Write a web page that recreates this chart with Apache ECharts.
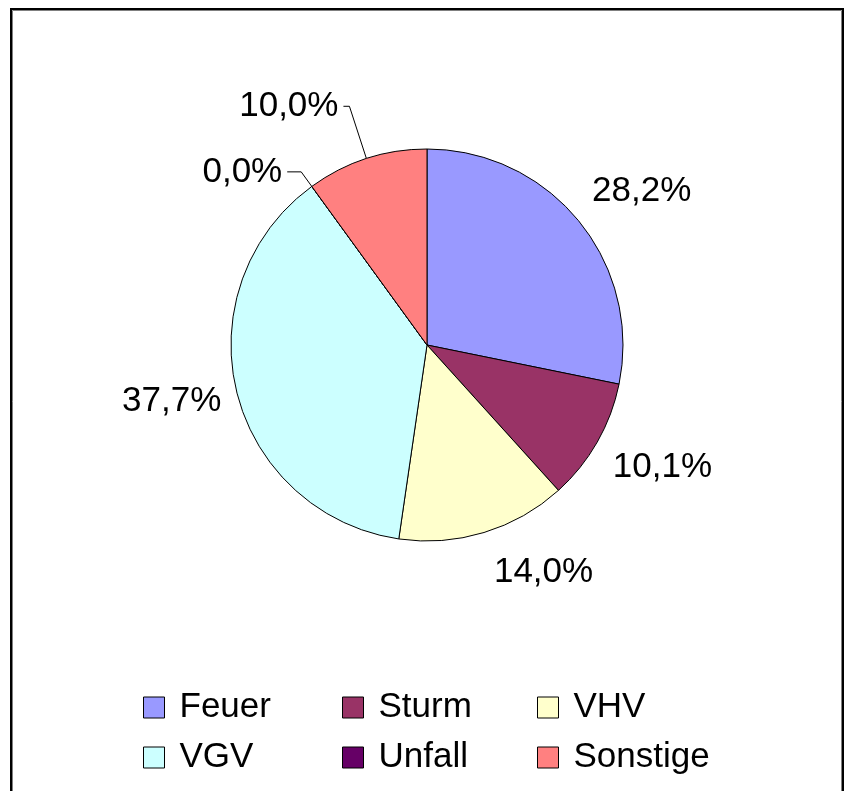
<!DOCTYPE html>
<html>
<head>
<meta charset="utf-8">
<script src="https://cdn.jsdelivr.net/npm/echarts@6/dist/echarts.min.js"></script>
<style>
    html, body { margin: 0; padding: 0; background: #fff; }
    #chart { width: 847px; height: 791px; }
</style>
</head>
<body>
<div id="chart"></div>
<script>
var categories = ['Feuer', 'Sturm', 'VHV', 'VGV', 'Unfall', 'Sonstige'];
var shares = [28.2, 10.1, 14.0, 37.7, 0.0, 10.0];
var colors = ['#9999FF', '#993366', '#FFFFCC', '#CCFFFF', '#660066', '#FF8080'];
// kleine Segmente bekommen eine Führungslinie
var leaderLines = {
    'Unfall': {length: 18, length2: 14},
    'Sonstige': {length: 55, length2: 6}
};
// Feinjustierung der Beschriftung wie im Original (Excel)
var labelShift = {
    'Feuer': [11, 13],
    'Sturm': [7, -8],
    'VHV': [40, -24],
    'VGV': [0, -7]
};

var pieChart;
var fontName = 'Liberation Sans, Arial, sans-serif';

function fmt(v) {
    return v.toFixed(1).replace('.', ',') + '%';
}

function initChar() {
    pieChart = echarts.init(document.getElementById('chart'));

    var mainData = [];
    var ringData = [];
    for (var i = 0; i < categories.length; i++) {
        var line = leaderLines[categories[i]];
        mainData.push({
            name: categories[i],
            value: shares[i],
            itemStyle: {color: colors[i]},
            label: {show: !!line},
            labelLine: line ? {show: true, length: line.length, length2: line.length2} : {show: false}
        });
        ringData.push({
            name: categories[i],
            value: shares[i],
            label: {show: !line, offset: labelShift[categories[i]] || [0, 0]}
        });
    }

    var legends = [];
    var cols = [143, 342, 537];
    var rows = [690, 740];
    for (var j = 0; j < categories.length; j++) {
        legends.push({
            left: cols[j % 3],
            top: rows[Math.floor(j / 3)],
            padding: 0,
            icon: 'rect',
            itemWidth: 21,
            itemHeight: 21,
            itemStyle: {borderColor: '#000', borderWidth: 1},
            selectedMode: false,
            textStyle: {fontFamily: fontName, fontSize: 35, color: '#000', padding: [0, 0, 0, 10]},
            data: [categories[j]]
        });
    }

    var option = {
        backgroundColor: '#fff',
        animation: false,
        legend: legends,
        graphic: [
            {type: 'rect', shape: {x: 11, y: 9, width: 832, height: 900}, style: {fill: null, stroke: '#000', lineWidth: 2}},
            {type: 'rect', shape: {x: 12.5, y: 10.5, width: 829, height: 900}, style: {fill: null, stroke: '#808080', lineWidth: 1}}
        ],
        series: [{
            type: 'pie',
            center: [427, 345],
            radius: 196,
            startAngle: 90,
            clockwise: true,
            avoidLabelOverlap: false,
            silent: true,
            itemStyle: {borderColor: '#000', borderWidth: 1},
            label: {
                position: 'outside',
                formatter: function (p) { return fmt(p.value); },
                fontFamily: fontName,
                fontSize: 35,
                color: '#000',
                distanceToLabelLine: 5
            },
            labelLine: {lineStyle: {color: '#000', width: 1}},
            data: mainData
        }, {
            // unsichtbarer Ring nur für die Beschriftung der großen Segmente
            type: 'pie',
            center: [427, 345],
            radius: [196, 324],
            startAngle: 90,
            clockwise: true,
            silent: true,
            itemStyle: {color: 'rgba(0,0,0,0)'},
            label: {
                position: 'inside',
                formatter: function (p) { return fmt(p.value); },
                fontFamily: fontName,
                fontSize: 35,
                color: '#000'
            },
            labelLine: {show: false},
            data: ringData
        }]
    };
    pieChart.setOption(option);
}

initChar();
</script>
</body>
</html>
